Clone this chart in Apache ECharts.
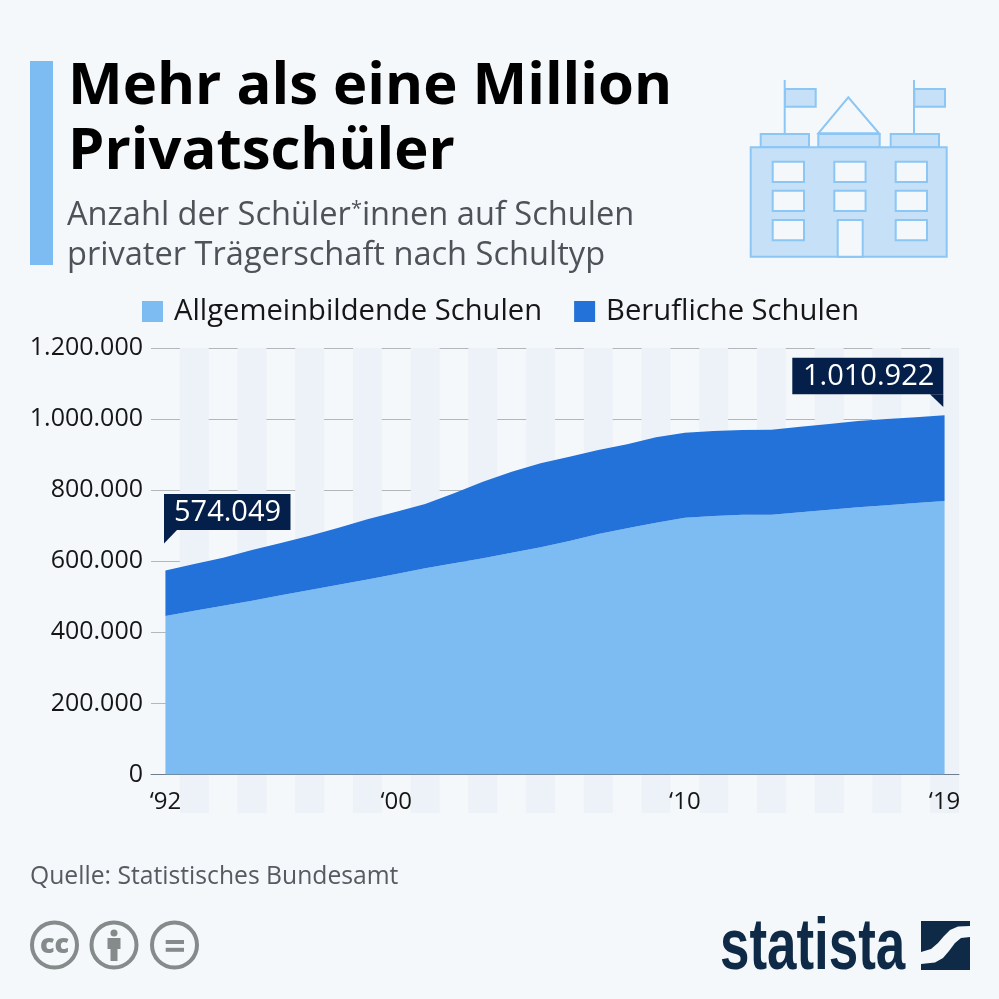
<!DOCTYPE html>
<html><head><meta charset="utf-8">
<style>html,body{margin:0;padding:0;background:#f4f8fb}#c{width:999px;height:999px}</style>
<script src="https://cdn.jsdelivr.net/npm/echarts@6/dist/echarts.min.js"></script>
</head><body><div id="c"></div>
<script>
const years = ['1992','1993','1994','1995','1996','1997','1998','1999','2000','2001','2002','2003','2004','2005','2006','2007','2008','2009','2010','2011','2012','2013','2014','2015','2016','2017','2018','2019'];
const tickLabels = {'1992':'‘92','2000':'‘00','2010':'‘10','2019':'‘19'};
const generalSchools = [446000,461000,475000,489000,504000,519000,534000,549000,564000,580000,594200,608300,624100,639300,657000,676700,692700,708500,722500,727300,731000,731000,737700,745000,751800,757400,763900,769500];
const vocationalSchools = [128049,131300,135000,142700,147300,152900,160400,169000,175400,181100,197000,215500,227900,236300,237200,236300,236300,240300,239200,239200,238300,239100,240900,241200,242800,242800,241100,241422];
const seriesNames = ['Allgemeinbildende Schulen','Berufliche Schulen'];
const firstLabel = '574.049', lastLabel = '1.010.922';
const titleLines = ['Mehr als eine Million','Privatschüler'];
const subtitleLines = ['Anzahl der Schüler{s|*}innen auf Schulen','privater Trägerschaft nach Schultyp'];
const source = 'Quelle: Statistisches Bundesamt';

const F = '"Open Sans"';
const LIGHT='#7cbcf2', DARK='#2272d9', NAVY='#04204a', LOGO='#0f2a47', ICON='#8cc6f4', ICONF='#c5e0f7', BG='#f4f8fb', CC='#858a8a';
const txt=(x,y,t,font,fill,extra)=>({type:'text',x,y,style:Object.assign({text:t,font,fill,align:'left',verticalAlign:'middle'},extra||{}),z:20});
const rect=(x,y,w,h,fill,stroke,lw)=>({type:'rect',shape:{x,y,width:w,height:h},style:{fill,stroke:stroke||null,lineWidth:lw||0},z:15});
const ring=(cx)=>({type:'circle',shape:{cx,cy:945,r:22.5},style:{fill:'none',stroke:CC,lineWidth:4},z:15});
const poly=(pts,fill,stroke,lw)=>({type:'polygon',shape:{points:pts},style:{fill,stroke:stroke||null,lineWidth:lw||0},z:15});
const line=(x1,y1,x2,y2)=>({type:'line',shape:{x1,y1,x2,y2},style:{stroke:ICON,lineWidth:2},z:15});

const icon=[
  line(784.7,80,784.7,134), line(914,80,914,134),
  rect(785,89,30.7,17.7,ICONF,ICON,2), rect(914.3,89,30.7,17.7,ICONF,ICON,2),
  poly([[818.3,133.3],[848.3,97.3],[879,133.3]],'none',ICON,2),
  rect(760.7,134,48.3,13.3,ICONF,ICON,2), rect(818.3,134,61.4,13.3,ICONF,ICON,2), rect(890.7,134,48.3,13.3,ICONF,ICON,2),
  rect(750.7,147.3,196,109.4,ICONF,ICON,2)
];
[772.7,834.3,895.7].forEach((x,c)=>[161.7,190.7,220].forEach((y,r)=>{ if(!(c===1&&r===2)) icon.push(rect(x,y,31.3,20.2,BG,ICON,2)); }));
icon.push(rect(837.7,220,25,36.7,BG,ICON,2));

const graphics=[
  rect(30,61,23,204,LIGHT),
  txt(68,87,titleLines[0],'700 58px '+F,'#000'),
  txt(68,152,titleLines[1],'700 58px '+F,'#000'),
  txt(67,216,subtitleLines[0],'400 32.6px '+F,'#4d5359',{rich:{s:{font:'400 20px '+F,fill:'#4d5359',padding:[0,0,14,0]}}}),
  txt(67,256,subtitleLines[1],'400 32.6px '+F,'#4d5359'),
  rect(164,494,126.5,36,NAVY),
  poly([[164,530],[177,530],[164,543.5]],NAVY),
  txt(174,513,firstLabel,'400 29px '+F,'#fff'),
  rect(792.3,357.7,151,36.6,NAVY),
  poly([[930,394.3],[943.3,394.3],[943.3,407]],NAVY),
  txt(803,377,lastLabel,'400 29px '+F,'#fff'),
  txt(30,877,source,'400 24.7px '+F,'#555b60'),
  ring(54.5),ring(114),ring(174.5),
  txt(54.5,945,'cc','800 27px '+F,CC,{align:'center'}),
  {type:'circle',shape:{cx:114,cy:933,r:3.5},style:{fill:CC},z:15},
  poly([[107.5,938],[120.5,938],[120.5,949],[117.5,949],[117.5,961],[110.5,961],[110.5,949],[107.5,949]],CC),
  rect(165.7,940,18.3,4,CC), rect(165.7,947.8,18.3,4,CC),
  {type:'text',x:720,y:949,scaleX:0.735,style:{text:'statista',font:'700 72px "Liberation Sans"',fill:LOGO,align:'left',verticalAlign:'middle'},z:20},
  poly([[921,921],[970,921],[970,926],[958,926.5],[950,930],[944,936],[938,943],[931,949],[921,952]],LOGO),
  poly([[970,937],[961,938],[955,943],[949,951],[943,958],[935,962.5],[921,964],[921,970],[970,970]],LOGO)
].concat(icon);

const chart=echarts.init(document.getElementById('c'),null,{renderer:'canvas'});
chart.setOption({
  animation:false,
  backgroundColor:BG,
  textStyle:{fontFamily:F},
  legend:{left:137,top:292,itemWidth:21,itemHeight:21,itemGap:32,icon:'rect',
    textStyle:{fontSize:29.2,fontFamily:F,color:'#161616',padding:[0,0,0,6]},data:seriesNames},
  grid:[
    {left:151,width:808,top:348,height:465},
    {left:151,width:808,top:348,height:426.5}
  ],
  xAxis:[
    {gridIndex:0,type:'category',data:years,boundaryGap:true,axisLine:{show:false},axisTick:{show:false},axisLabel:{show:false},splitLine:{show:false},
      splitArea:{show:true,interval:0,areaStyle:{color:['rgba(0,0,0,0)','#edf1f8']}}},
    {gridIndex:1,type:'category',data:years,boundaryGap:true,
      axisLine:{show:true,lineStyle:{color:'#6e7e8d',width:1}},axisTick:{show:false},splitLine:{show:false},
      axisLabel:{interval:0,margin:16,fontSize:24,fontFamily:F,color:'#161616',formatter:v=>tickLabels[v]||''}}
  ],
  yAxis:[
    {gridIndex:0,type:'value',show:false,min:0,max:1},
    {gridIndex:1,type:'value',min:0,max:1200000,interval:200000,axisLine:{show:false},axisTick:{show:false},
      axisLabel:{margin:8,fontSize:25,fontFamily:F,color:'#161616',formatter:v=>String(v).replace(/\B(?=(\d{3})+$)/g,'.')},
      splitLine:{show:true,lineStyle:{color:'#b4b7ba',width:1}}}
  ],
  series:[
    {name:seriesNames[0],type:'line',xAxisIndex:1,yAxisIndex:1,stack:'t',data:generalSchools,symbol:'none',lineStyle:{width:0},itemStyle:{color:LIGHT},areaStyle:{color:LIGHT,opacity:1}},
    {name:seriesNames[1],type:'line',xAxisIndex:1,yAxisIndex:1,stack:'t',data:vocationalSchools,symbol:'none',lineStyle:{width:0},itemStyle:{color:DARK},areaStyle:{color:DARK,opacity:1}}
  ],
  graphic:{elements:graphics}
});
</script></body></html>
